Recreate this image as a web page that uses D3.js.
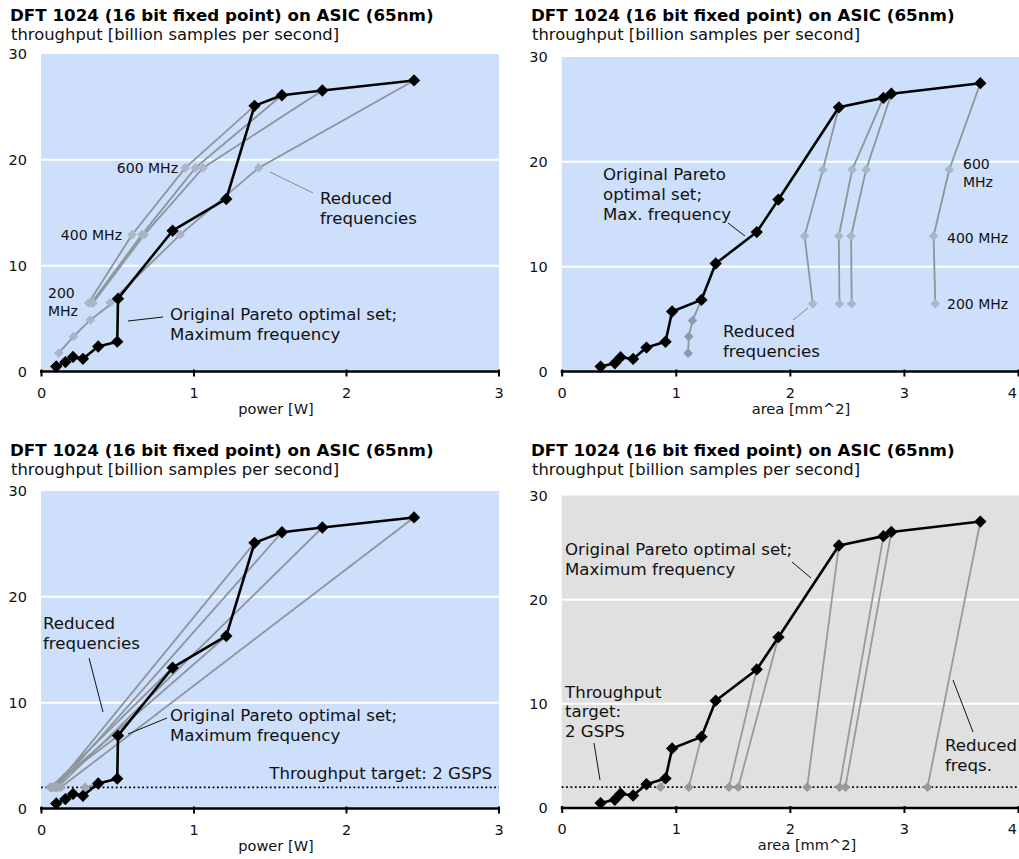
<!DOCTYPE html>
<html><head><meta charset="utf-8">
<script src="https://cdn.jsdelivr.net/npm/d3@7"></script>
<style>
body{margin:0;background:#fff}
svg{display:block}
text{font-family:"DejaVu Sans",Verdana,sans-serif}
</style>
</head><body>
<svg id="chart" width="1019" height="859"></svg>
<script>
// ---------------- DATA ----------------
const titleText = "DFT 1024 (16 bit fixed point) on ASIC (65nm)";
const yAxisTitle = "throughput [billion samples per second]";
const yTicks = [0, 10, 20, 30];
const powerTicks = [0, 1, 2, 3];
const areaTicks = [0, 1, 2, 3, 4];
const targetThroughput = 2;

// Original Pareto optimal set (power vs throughput)
const paretoPower      = [0.10, 0.16, 0.21, 0.275, 0.375, 0.50, 0.505, 0.863, 1.215, 1.40, 1.58, 1.845, 2.446];
const paretoPowerTput  = [0.47, 0.89, 1.38, 1.20, 2.36, 2.82, 6.88, 13.3, 16.3, 25.1, 26.1, 26.55, 27.5];

// Original Pareto optimal set (area vs throughput)
const paretoArea       = [0.341, 0.466, 0.516, 0.626, 0.743, 0.91, 0.968, 1.225, 1.35, 1.71, 1.90, 2.43, 2.82, 2.89, 3.67];
const paretoAreaTput   = [0.47, 0.79, 1.37, 1.20, 2.28, 2.84, 5.72, 6.83, 10.3, 13.3, 16.4, 25.2, 26.1, 26.5, 27.5];

// Reduced frequencies (600 / 400 / 200 MHz etc.), first point = max-frequency design
const powerReduced = [
  [[2.446, 27.5], [1.427, 19.24], [0.913, 12.93], [0.454, 6.50]],
  [[1.845, 26.55], [1.062, 19.24], [0.677, 12.93], [0.341, 6.47]],
  [[1.58, 26.1], [1.012, 19.24], [0.662, 12.93], [0.330, 6.47]],
  [[1.40, 25.1], [0.946, 19.24], [0.597, 12.93], [0.312, 6.47]],
  [[0.505, 6.88], [0.323, 4.87], [0.214, 3.31], [0.116, 1.74]]
];
const areaReduced = [
  [[3.67, 27.5], [3.397, 19.24], [3.26, 12.93], [3.275, 6.47]],
  [[2.89, 26.5], [2.668, 19.24], [2.537, 12.93], [2.542, 6.47]],
  [[2.82, 26.1], [2.546, 19.24], [2.429, 12.93], [2.435, 6.47]],
  [[2.43, 25.2], [2.289, 19.24], [2.129, 12.93], [2.201, 6.47]],
  [[1.225, 6.83], [1.146, 4.86], [1.114, 3.33], [1.108, 1.75]]
];

// Reduced to throughput target (2 GSPS)
const powerToTarget = [
  [[2.446, 27.5], [0.13, 2]],
  [[1.845, 26.55], [0.11, 2]],
  [[1.58, 26.1], [0.10, 2]],
  [[1.40, 25.1], [0.09, 2]],
  [[1.215, 16.3], [0.075, 2]],
  [[0.863, 13.3], [0.065, 2]],
  [[0.505, 6.88], [0.06, 2]],
  [[0.50, 2.82], [0.29, 2]]
];
const areaToTarget = [
  [[3.67, 27.5], [3.207, 2]],
  [[2.89, 26.5], [2.487, 2]],
  [[2.82, 26.1], [2.435, 2]],
  [[2.43, 25.2], [2.152, 2]],
  [[1.90, 16.4], [1.548, 2]],
  [[1.71, 13.3], [1.466, 2]],
  [[1.225, 6.83], [1.114, 2]],
  [[0.91, 2.84], [0.866, 2]]
];

// ---------------- DRAW ----------------
const svg = d3.select("#chart");
const FONT = '"DejaVu Sans",Verdana,sans-serif';
const zip = (a, b) => a.map((v, i) => [v, b[i]]);

function diamond(sel, pts, x, y, size, fill) {
  sel.selectAll(null).data(pts).enter().append("path")
    .attr("d", d3.symbol().type(d3.symbolSquare).size(size)())
    .attr("transform", d => `translate(${x(d[0])},${y(d[1])}) rotate(45)`)
    .attr("fill", fill);
}

function textBlock(g, t) {
  const el = g.append("text")
    .attr("x", t.x).attr("y", t.y)
    .attr("font-size", t.size || 16.6)
    .attr("fill", "#111")
    .attr("text-anchor", t.anchor || "start");
  const lh = t.lh || 20;
  t.lines.forEach((s, i) => {
    el.append("tspan").attr("x", t.x).attr("y", t.y + i * lh).attr("dy", "0.36em").text(s);
  });
}

function drawPanel(cfg) {
  const g = svg.append("g");
  const x = d3.scaleLinear().domain([0, cfg.xmax]).range([cfg.x0, cfg.x1]);
  const y = d3.scaleLinear().domain([0, 30]).range([cfg.y0, cfg.y1]);

  // titles
  g.append("text").attr("x", cfg.tx).attr("y", cfg.ty).attr("font-size", 16.7)
    .attr("font-weight", "bold").attr("fill", "#000").text(titleText);
  g.append("text").attr("x", cfg.tx + 1).attr("y", cfg.ty + 19).attr("font-size", 16.4)
    .attr("fill", "#111").text(yAxisTitle);

  // background
  g.append("rect").attr("x", cfg.x0).attr("y", y(30))
    .attr("width", cfg.bgRight - cfg.x0).attr("height", y(0) - y(30))
    .attr("fill", cfg.bg);

  // grid
  g.selectAll(null).data(yTicks.filter(v => v > 0 && v < 30)).enter().append("line")
    .attr("x1", cfg.x0).attr("x2", cfg.bgRight)
    .attr("y1", d => y(d)).attr("y2", d => y(d))
    .attr("stroke", "#fff").attr("stroke-width", 2);

  // y axis labels
  const ya = g.append("g").attr("transform", `translate(${cfg.x0},0)`)
    .call(d3.axisLeft(y).tickValues(yTicks).tickFormat(d3.format("d")).tickSize(0).tickPadding(14));
  ya.select(".domain").remove();
  ya.selectAll("text").attr("font-size", 14.5).attr("fill", "#111").attr("font-family", FONT);

  // target dotted line
  if (cfg.target) {
    g.append("line").attr("x1", cfg.x0).attr("x2", cfg.bgRight)
      .attr("y1", y(targetThroughput)).attr("y2", y(targetThroughput))
      .attr("stroke", "#000").attr("stroke-width", 1.6).attr("stroke-dasharray", "1.8,2.6");
  }

  // gray reduced-frequency lines
  const line = d3.line().x(d => x(d[0])).y(d => y(d[1]));
  cfg.reduced.forEach(s => {
    g.append("path").attr("d", line(s)).attr("fill", "none")
      .attr("stroke", cfg.grayLine).attr("stroke-width", 1.8);
  });
  cfg.reduced.forEach((s, i) => {
    const col = (cfg.grayMarkerAlt && i === cfg.reduced.length - 1) ? cfg.grayMarkerAlt : cfg.grayMarker;
    diamond(g, s.slice(1), x, y, 46, col);
  });

  // black pareto line
  const pts = zip(cfg.px, cfg.py);
  g.append("path").attr("d", line(pts)).attr("fill", "none")
    .attr("stroke", "#000").attr("stroke-width", 2.6).attr("stroke-linejoin", "round");
  diamond(g, pts, x, y, 76, "#000");

  // x axis
  const xa = g.append("g").attr("transform", `translate(0,${cfg.y0})`)
    .call(d3.axisBottom(x).tickValues(cfg.xticks).tickFormat(d3.format("d"))
      .tickSizeInner(5).tickSizeOuter(0).tickPadding(11));
  xa.select(".domain").attr("stroke", "#000").attr("stroke-width", 2.5)
    .attr("d", `M${cfg.x0 - 1},0H${cfg.bgRight}`);
  xa.selectAll(".tick line").attr("stroke", "#000").attr("stroke-width", 2).attr("y1", -2);
  xa.selectAll("text").attr("font-size", 14.5).attr("fill", "#111").attr("font-family", FONT);
  // keep the last label inside the picture
  xa.selectAll(".tick text").filter(d => x(d) > 1010).attr("text-anchor", "end").attr("dx", "-0.1em");

  g.append("text").attr("x", cfg.xlx).attr("y", cfg.y0 + 42).attr("font-size", 14.6)
    .attr("text-anchor", "middle").attr("fill", "#111").text(cfg.xlabel);

  // leaders
  cfg.leaders.forEach(l => {
    g.append("line").attr("x1", l[0]).attr("y1", l[1]).attr("x2", l[2]).attr("y2", l[3])
      .attr("stroke", l[4] || "#111").attr("stroke-width", 1);
  });
  cfg.texts.forEach(t => textBlock(g, t));
}

drawPanel({
  tx: 10, ty: 21, x0: 41, x1: 498.5, y0: 371.5, y1: 54, bgRight: 499, xmax: 3,
  bg: "#cddffb", xticks: powerTicks, xlabel: "power [W]", xlx: 276,
  px: paretoPower, py: paretoPowerTput, reduced: powerReduced,
  grayLine: "#8d949c", grayMarker: "#a9b6c8",
  leaders: [[270, 172, 313, 193, "#888"], [128, 321, 163, 317]],
  texts: [
    {x: 178, y: 168, lines: ["600 MHz"], anchor: "end", size: 14},
    {x: 122, y: 235, lines: ["400 MHz"], anchor: "end", size: 14},
    {x: 48, y: 293, lines: ["200", "MHz"], size: 14, lh: 18},
    {x: 320, y: 198, lines: ["Reduced", "frequencies"]},
    {x: 170, y: 314, lines: ["Original Pareto optimal set;", "Maximum frequency"]}
  ]
});

drawPanel({
  tx: 531, ty: 21, x0: 561.7, x1: 1018, y0: 371.5, y1: 57, bgRight: 1019, xmax: 4,
  bg: "#cddffb", xticks: areaTicks, xlabel: "area [mm^2]", xlx: 801,
  px: paretoArea, py: paretoAreaTput, reduced: areaReduced,
  grayLine: "#8d949c", grayMarker: "#a9b6c8", grayMarkerAlt: "#8e9aab",
  leaders: [[728, 223, 745, 236], [793, 320, 808, 308, "#888"]],
  texts: [
    {x: 603, y: 174, lines: ["Original Pareto", "optimal set;", "Max. frequency"]},
    {x: 963, y: 164, lines: ["600", "MHz"], size: 14, lh: 18},
    {x: 947, y: 238, lines: ["400 MHz"], size: 14},
    {x: 947, y: 304, lines: ["200 MHz"], size: 14},
    {x: 723, y: 331, lines: ["Reduced", "frequencies"]}
  ]
});

drawPanel({
  tx: 10, ty: 456, x0: 41, x1: 498.5, y0: 808.5, y1: 491, bgRight: 499, xmax: 3,
  bg: "#cddffb", xticks: powerTicks, xlabel: "power [W]", xlx: 276, target: true,
  px: paretoPower, py: paretoPowerTput, reduced: powerToTarget,
  grayLine: "#8d949c", grayMarker: "#a0a9b4",
  leaders: [[89, 658, 103, 712], [128, 734, 167, 718]],
  texts: [
    {x: 43, y: 623, lines: ["Reduced", "frequencies"]},
    {x: 170, y: 715, lines: ["Original Pareto optimal set;", "Maximum frequency"]},
    {x: 492, y: 773, lines: ["Throughput target: 2 GSPS"], anchor: "end"}
  ]
});

drawPanel({
  tx: 531, ty: 456, x0: 561.7, x1: 1018, y0: 808, y1: 495.5, bgRight: 1019, xmax: 4,
  bg: "#e0e0e0", xticks: areaTicks, xlabel: "area [mm^2]", xlx: 807, target: true,
  px: paretoArea, py: paretoAreaTput, reduced: areaToTarget,
  grayLine: "#999999", grayMarker: "#999999",
  leaders: [[792, 562, 811, 578], [594, 743, 600, 780], [953, 680, 973, 732]],
  texts: [
    {x: 565, y: 549, lines: ["Original Pareto optimal set;", "Maximum frequency"]},
    {x: 565, y: 692, lines: ["Throughput", "target:", "2 GSPS"], lh: 19.5},
    {x: 945, y: 745, lines: ["Reduced", "freqs."]}
  ]
});
</script>
</body></html>
